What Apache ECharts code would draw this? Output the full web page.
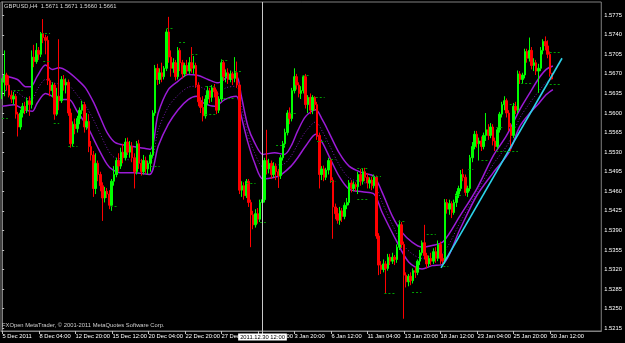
<!DOCTYPE html>
<html><head><meta charset="utf-8">
<script src="https://cdn.jsdelivr.net/npm/echarts@6/dist/echarts.min.js"></script>
<style>html,body{margin:0;padding:0;background:#000;}#c{width:625px;height:343px;}</style>
</head><body><div id="c"></div>
<script>
// ---- data ----
const title = 'GBPUSD,H4  1.5671 1.5671 1.5660 1.5661';
const copyright = 'FXOpen MetaTrader, \u00A9 2001-2011 MetaQuotes Software Corp.';
const timeLabels = ['5 Dec 2011','8 Dec 04:00','12 Dec 20:00','15 Dec 12:00','20 Dec 04:00','22 Dec 20:00','27 Dec 12:00','29 Dec 04:00','3 Jan 20:00','6 Jan 12:00','11 Jan 04:00','13 Jan 20:00','18 Jan 12:00','23 Jan 04:00','25 Jan 20:00','30 Jan 12:00'];
const barsPerLabel = 16;
const slotCount = 263; // bars incl. empty right shift
const priceTicks = [1.5215,1.5250,1.5285,1.5320,1.5355,1.5390,1.5425,1.5460,1.5495,1.5530,1.5565,1.5600,1.5635,1.5670,1.5705,1.5740,1.5775];
const crossPrice = 1.5789, crossBar = 114, crossLabel = '2011.12.30 12:00';
const bidPrice = 1.5661;
// [open, close, low, high]
const bars = [
[1.5640,1.5655,1.5625,1.5662],[1.5655,1.5668,1.5630,1.5712],[1.5668,1.5650,1.5640,1.5672],[1.5650,1.5632,1.5628,1.5667],[1.5632,1.5625,1.5618,1.5640],
[1.5625,1.5630,1.5615,1.5638],[1.5630,1.5598,1.5590,1.5634],[1.5598,1.5575,1.5558,1.5602],[1.5575,1.5600,1.5570,1.5606],[1.5600,1.5612,1.5592,1.5618],
[1.5612,1.5605,1.5598,1.5620],[1.5605,1.5622,1.5600,1.5628],[1.5622,1.5615,1.5595,1.5630],[1.5615,1.5700,1.5608,1.5712],[1.5700,1.5692,1.5682,1.5722],
[1.5692,1.5712,1.5688,1.5725],[1.5712,1.5705,1.5695,1.5718],[1.5705,1.5742,1.5700,1.5745],[1.5742,1.5735,1.5725,1.5768],[1.5735,1.5730,1.5705,1.5740],
[1.5730,1.5658,1.5650,1.5738],[1.5658,1.5640,1.5630,1.5662],[1.5640,1.5650,1.5628,1.5655],[1.5650,1.5598,1.5588,1.5654],[1.5598,1.5630,1.5595,1.5645],
[1.5630,1.5622,1.5605,1.5732],[1.5622,1.5660,1.5618,1.5666],[1.5660,1.5650,1.5640,1.5668],[1.5650,1.5655,1.5635,1.5662],[1.5655,1.5600,1.5595,1.5660],
[1.5600,1.5545,1.5538,1.5608],[1.5545,1.5580,1.5540,1.5585],[1.5580,1.5572,1.5562,1.5590],[1.5572,1.5590,1.5565,1.5595],[1.5590,1.5605,1.5580,1.5610],
[1.5605,1.5615,1.5598,1.5622],[1.5615,1.5575,1.5565,1.5620],[1.5575,1.5585,1.5570,1.5600],[1.5585,1.5540,1.5530,1.5598],[1.5540,1.5525,1.5515,1.5550],
[1.5525,1.5465,1.5450,1.5532],[1.5465,1.5510,1.5455,1.5528],[1.5510,1.5490,1.5478,1.5515],[1.5490,1.5470,1.5460,1.5495],[1.5470,1.5448,1.5407,1.5476],
[1.5448,1.5460,1.5440,1.5468],[1.5460,1.5455,1.5448,1.5466],[1.5455,1.5435,1.5428,1.5462],[1.5435,1.5478,1.5425,1.5482],[1.5478,1.5490,1.5470,1.5505],
[1.5490,1.5515,1.5485,1.5520],[1.5515,1.5505,1.5495,1.5528],[1.5505,1.5530,1.5500,1.5538],[1.5530,1.5520,1.5510,1.5545],[1.5520,1.5548,1.5515,1.5555],
[1.5548,1.5530,1.5525,1.5556],[1.5530,1.5540,1.5520,1.5550],[1.5540,1.5520,1.5512,1.5548],[1.5520,1.5495,1.5465,1.5528],[1.5495,1.5545,1.5490,1.5550],
[1.5545,1.5510,1.5500,1.5552],[1.5510,1.5495,1.5488,1.5518],[1.5495,1.5515,1.5490,1.5525],[1.5515,1.5500,1.5492,1.5522],[1.5500,1.5510,1.5490,1.5515],
[1.5510,1.5525,1.5495,1.5530],[1.5525,1.5600,1.5520,1.5605],[1.5600,1.5680,1.5595,1.5686],[1.5680,1.5660,1.5650,1.5688],[1.5660,1.5672,1.5652,1.5680],
[1.5672,1.5665,1.5655,1.5690],[1.5665,1.5680,1.5660,1.5684],[1.5680,1.5745,1.5675,1.5750],[1.5745,1.5700,1.5690,1.5772],[1.5700,1.5680,1.5665,1.5712],
[1.5680,1.5690,1.5672,1.5698],[1.5690,1.5665,1.5658,1.5695],[1.5665,1.5712,1.5660,1.5718],[1.5712,1.5690,1.5675,1.5716],[1.5690,1.5670,1.5662,1.5695],
[1.5670,1.5685,1.5665,1.5690],[1.5685,1.5675,1.5668,1.5695],[1.5675,1.5690,1.5670,1.5700],[1.5690,1.5680,1.5672,1.5718],[1.5680,1.5685,1.5670,1.5702],
[1.5685,1.5650,1.5645,1.5690],[1.5650,1.5620,1.5612,1.5655],[1.5620,1.5610,1.5600,1.5628],[1.5610,1.5595,1.5585,1.5630],[1.5595,1.5625,1.5590,1.5632],
[1.5625,1.5640,1.5615,1.5648],[1.5640,1.5628,1.5618,1.5645],[1.5628,1.5645,1.5620,1.5650],[1.5645,1.5638,1.5628,1.5652],[1.5638,1.5605,1.5598,1.5642],
[1.5605,1.5625,1.5600,1.5630],[1.5625,1.5690,1.5620,1.5696],[1.5690,1.5665,1.5658,1.5694],[1.5665,1.5672,1.5655,1.5678],[1.5672,1.5660,1.5652,1.5680],
[1.5660,1.5670,1.5655,1.5676],[1.5670,1.5662,1.5650,1.5674],[1.5662,1.5672,1.5655,1.5700],[1.5672,1.5650,1.5645,1.5692],[1.5650,1.5462,1.5455,1.5655],
[1.5462,1.5470,1.5450,1.5478],[1.5470,1.5452,1.5445,1.5476],[1.5452,1.5478,1.5448,1.5482],[1.5478,1.5440,1.5432,1.5482],[1.5440,1.5418,1.5360,1.5445],
[1.5418,1.5400,1.5392,1.5425],[1.5400,1.5420,1.5395,1.5428],[1.5420,1.5410,1.5402,1.5430],[1.5410,1.5440,1.5405,1.5445],[1.5440,1.5445,1.5430,1.5452],
[1.5445,1.5515,1.5440,1.5520],[1.5515,1.5500,1.5490,1.5570],[1.5500,1.5510,1.5492,1.5518],[1.5510,1.5490,1.5482,1.5515],[1.5490,1.5505,1.5485,1.5512],
[1.5505,1.5495,1.5480,1.5510],[1.5495,1.5488,1.5466,1.5500],[1.5488,1.5520,1.5482,1.5525],[1.5520,1.5545,1.5515,1.5550],[1.5545,1.5565,1.5538,1.5572],
[1.5565,1.5600,1.5560,1.5605],[1.5600,1.5590,1.5580,1.5610],[1.5590,1.5640,1.5585,1.5645],[1.5640,1.5665,1.5635,1.5680],[1.5665,1.5650,1.5642,1.5670],
[1.5650,1.5635,1.5628,1.5655],[1.5635,1.5640,1.5625,1.5648],[1.5640,1.5665,1.5635,1.5668],[1.5665,1.5615,1.5608,1.5670],[1.5615,1.5628,1.5600,1.5632],
[1.5628,1.5605,1.5598,1.5635],[1.5605,1.5628,1.5598,1.5632],[1.5628,1.5615,1.5605,1.5630],[1.5615,1.5560,1.5552,1.5620],[1.5560,1.5490,1.5465,1.5565],
[1.5490,1.5500,1.5480,1.5505],[1.5500,1.5485,1.5478,1.5506],[1.5485,1.5498,1.5480,1.5502],[1.5498,1.5515,1.5490,1.5520],[1.5515,1.5480,1.5475,1.5518],
[1.5480,1.5432,1.5375,1.5485],[1.5432,1.5420,1.5410,1.5438],[1.5420,1.5408,1.5402,1.5430],[1.5408,1.5425,1.5400,1.5432],[1.5425,1.5415,1.5405,1.5430],
[1.5415,1.5435,1.5410,1.5440],[1.5435,1.5440,1.5428,1.5448],[1.5440,1.5475,1.5435,1.5480],[1.5475,1.5465,1.5458,1.5480],[1.5465,1.5472,1.5460,1.5478],
[1.5472,1.5468,1.5460,1.5476],[1.5468,1.5490,1.5455,1.5495],[1.5490,1.5478,1.5470,1.5500],[1.5478,1.5495,1.5472,1.5500],[1.5495,1.5485,1.5478,1.5502],
[1.5485,1.5475,1.5465,1.5492],[1.5475,1.5480,1.5465,1.5485],[1.5480,1.5470,1.5462,1.5486],[1.5470,1.5485,1.5465,1.5490],[1.5485,1.5380,1.5375,1.5488],
[1.5380,1.5328,1.5310,1.5385],[1.5328,1.5320,1.5312,1.5335],[1.5320,1.5330,1.5315,1.5338],[1.5330,1.5322,1.5278,1.5335],[1.5322,1.5342,1.5318,1.5348],
[1.5342,1.5335,1.5328,1.5348],[1.5335,1.5342,1.5330,1.5350],[1.5342,1.5338,1.5328,1.5346],[1.5338,1.5360,1.5332,1.5365],[1.5360,1.5400,1.5355,1.5408],
[1.5400,1.5365,1.5358,1.5405],[1.5365,1.5310,1.5232,1.5370],[1.5310,1.5298,1.5288,1.5315],[1.5298,1.5308,1.5290,1.5312],[1.5308,1.5300,1.5292,1.5315],
[1.5300,1.5318,1.5295,1.5322],[1.5318,1.5315,1.5305,1.5325],[1.5315,1.5335,1.5310,1.5338],[1.5335,1.5350,1.5328,1.5355],[1.5350,1.5368,1.5345,1.5372],
[1.5368,1.5345,1.5338,1.5400],[1.5345,1.5330,1.5322,1.5350],[1.5330,1.5340,1.5325,1.5345],[1.5340,1.5335,1.5328,1.5350],[1.5335,1.5352,1.5330,1.5358],
[1.5352,1.5340,1.5332,1.5360],[1.5340,1.5365,1.5335,1.5372],[1.5365,1.5340,1.5330,1.5370],[1.5340,1.5335,1.5326,1.5348],[1.5335,1.5440,1.5330,1.5446],
[1.5440,1.5428,1.5420,1.5446],[1.5428,1.5438,1.5418,1.5445],[1.5438,1.5422,1.5412,1.5442],[1.5422,1.5440,1.5418,1.5445],[1.5440,1.5455,1.5432,1.5460],
[1.5455,1.5465,1.5448,1.5470],[1.5465,1.5490,1.5460,1.5498],[1.5490,1.5485,1.5478,1.5500],[1.5485,1.5458,1.5452,1.5490],[1.5458,1.5465,1.5450,1.5470],
[1.5465,1.5520,1.5460,1.5525],[1.5520,1.5540,1.5512,1.5548],[1.5540,1.5562,1.5535,1.5568],[1.5562,1.5545,1.5538,1.5568],[1.5545,1.5550,1.5515,1.5556],
[1.5550,1.5540,1.5532,1.5558],[1.5540,1.5560,1.5535,1.5565],[1.5560,1.5570,1.5550,1.5600],[1.5570,1.5560,1.5552,1.5580],[1.5560,1.5575,1.5555,1.5582],
[1.5575,1.5550,1.5542,1.5580],[1.5550,1.5540,1.5532,1.5556],[1.5540,1.5570,1.5535,1.5575],[1.5570,1.5598,1.5565,1.5602],[1.5598,1.5615,1.5592,1.5620],
[1.5615,1.5622,1.5605,1.5630],[1.5622,1.5600,1.5592,1.5626],[1.5600,1.5575,1.5568,1.5605],[1.5575,1.5560,1.5532,1.5582],[1.5560,1.5612,1.5555,1.5618],
[1.5612,1.5605,1.5598,1.5620],[1.5605,1.5670,1.5600,1.5676],[1.5670,1.5660,1.5652,1.5675],[1.5660,1.5668,1.5652,1.5672],[1.5668,1.5710,1.5662,1.5715],
[1.5710,1.5698,1.5690,1.5715],[1.5698,1.5712,1.5692,1.5735],[1.5712,1.5685,1.5678,1.5718],[1.5685,1.5690,1.5675,1.5698],[1.5690,1.5675,1.5668,1.5695],
[1.5675,1.5680,1.5636,1.5688],[1.5680,1.5712,1.5675,1.5718],[1.5712,1.5728,1.5705,1.5732],[1.5728,1.5720,1.5712,1.5737],[1.5720,1.5705,1.5698,1.5730],
[1.5705,1.5671,1.5665,1.5710],[1.5671,1.5661,1.5660,1.5671]
];
// indicator bands [barIndex, price]
const upperBand = [[0,1.5667],[6.7,1.5660],[10.3,1.5647],[12.5,1.5647],[15.4,1.5666],[19,1.5686],[22,1.5678],[24.9,1.5681],[28.5,1.5675],[32.9,1.5660],[36.5,1.5645],[40.2,1.5618],[43.1,1.5591],[46,1.5565],[49.6,1.5547],[54.7,1.5542],[60.6,1.5538],[64.9,1.5535],[68.4,1.5600],[72.8,1.5642],[77.1,1.5657],[81.5,1.5669],[85.9,1.5667],[90.2,1.5660],[94.6,1.5654],[99,1.5665],[102.6,1.5666],[104.8,1.5630],[107.7,1.5576],[110.6,1.5547],[114.3,1.5526],[119.4,1.5529],[123.7,1.5526],[126.6,1.5541],[129.5,1.5568],[133,1.5594],[137.4,1.5606],[140.3,1.5588],[143.2,1.5565],[147.6,1.5529],[152,1.5505],[157.8,1.5493],[162.9,1.5487],[166.5,1.5458],[170.9,1.5416],[175.3,1.5386],[179.6,1.5369],[184,1.5360],[188.4,1.5363],[193.3,1.5370],[200.6,1.5416],[207.9,1.5464],[215.1,1.5523],[220.9,1.5559],[226.8,1.5606],[231.2,1.5636],[235.3,1.5663],[238.4,1.5678],[241.3,1.5684]];
const lowerBand = [[0,1.5612],[5.2,1.5615],[9.6,1.5606],[13.2,1.5603],[15.4,1.5618],[19,1.5635],[22,1.5630],[25.6,1.5624],[29.3,1.5624],[32.9,1.5603],[37.3,1.5576],[41.6,1.5541],[46,1.5508],[48.2,1.5499],[51.8,1.5493],[57.6,1.5493],[64.5,1.5490],[68.4,1.5541],[72.8,1.5580],[77.1,1.5606],[81.5,1.5624],[85.1,1.5630],[88.1,1.5618],[93.2,1.5612],[97.5,1.5624],[102.6,1.5630],[104.8,1.5594],[107.7,1.5547],[110.6,1.5511],[114.3,1.5482],[119.4,1.5485],[122.3,1.5490],[126.6,1.5505],[129.5,1.5520],[133,1.5541],[137.4,1.5562],[140.3,1.5547],[143.2,1.5523],[147.6,1.5487],[152,1.5464],[157.8,1.5459],[162.9,1.5455],[166.5,1.5422],[172.3,1.5375],[178.2,1.5333],[184,1.5321],[188.4,1.5327],[193.3,1.5330],[200.6,1.5392],[207.9,1.5452],[215.1,1.5493],[222,1.5529],[226.8,1.5576],[231.2,1.5600],[235.3,1.5618],[238.4,1.5633],[241.3,1.5642]];
const midBand = [[0,1.5640],[6,1.5638],[10,1.5627],[13,1.5625],[15.4,1.5642],[19,1.5660],[22,1.5654],[25.5,1.5652],[29,1.5650],[32.9,1.5632],[37,1.5610],[41,1.5580],[46,1.5537],[49,1.5521],[54,1.5517],[60,1.5515],[64.7,1.5512],[68.4,1.5570],[72.8,1.5611],[77.1,1.5632],[81.5,1.5646],[85.5,1.5648],[90,1.5640],[94,1.5633],[98,1.5645],[102.6,1.5648],[104.8,1.5612],[107.7,1.5561],[110.6,1.5529],[114.3,1.5504],[119.4,1.5507],[123,1.5508],[126.6,1.5523],[129.5,1.5544],[133,1.5567],[137.4,1.5584],[140.3,1.5567],[143.2,1.5544],[147.6,1.5508],[152,1.5484],[157.8,1.5476],[162.9,1.5471],[166.5,1.5440],[171.5,1.5396],[176.5,1.5360],[184,1.5340],[188.4,1.5345],[193.3,1.5350],[200.6,1.5404],[207.9,1.5458],[215.1,1.5508],[221.5,1.5544],[226.8,1.5591],[231.2,1.5618],[235.3,1.5640],[238.4,1.5655],[241.3,1.5663]];
const trendLine = [[192.3,1.5323],[245.3,1.5698]];
// dashed day markers [fromBar, toBar, price]
const dayMarks = [[17,21,1.5742],[18,21,1.5692],[5,9,1.5640],[0,2.5,1.5590],[22.6,25,1.5582],[29,33,1.5541],[47.5,51,1.5434],[72,75,1.5751],[77.5,81,1.5726],[83,85.5,1.5706],[96,99,1.5695],[102,105,1.5674],[89,93,1.5647],[89,94,1.5597],[97,102,1.5626],[65,69,1.5505],[107,111,1.5475],[113,115.5,1.5404],[120,124,1.5542],[126,129.5,1.5600],[131.6,135,1.5667],[137.4,141.3,1.5628],[138,141.8,1.5550],[144,146,1.5517],[144,146,1.5478],[155.6,160,1.5501],[155.6,160,1.5446],[162,166,1.5487],[173.6,176.7,1.5407],[186,190,1.5384],[167.5,172,1.5277],[179.6,183.7,1.5280],[193.3,195.5,1.5325],[198.4,202,1.5453],[204.2,206.4,1.5499],[210,213,1.5515],[216.5,220,1.5574],[216.5,226,1.5531],[222.4,224.6,1.5616],[227.4,232.6,1.5654],[239.9,244.3,1.5708],[239.9,244.3,1.5652]];

// ---- chart ----
const FONT = '"Liberation Sans",Arial,sans-serif';
const FS = 5.8;
const categories = Array.from({length: slotCount}, (_, i) => String(i));

const chart = echarts.init(document.getElementById('c'), null, {renderer: 'canvas'});
const GRID = {left: 1, right: 21.3, top: 2, bottom: 12};
const gridBottomY = 343 - GRID.bottom;
const option = {
  backgroundColor: '#000000',
  animation: false,
  grid: {left: GRID.left, right: GRID.right, top: GRID.top, bottom: GRID.bottom, show: true,
         borderColor: '#808080', borderWidth: 1, backgroundColor: 'transparent'},
  xAxis: [{
    type: 'category', data: categories, boundaryGap: true,
    axisLine: {show: true, lineStyle: {color: '#808080', width: 1}},
    axisTick: {show: false}, axisLabel: {show: false}, splitLine: {show: false}
  }, {
    type: 'value', min: -0.5, max: slotCount - 0.5, show: false
  }],
  yAxis: {
    type: 'value', position: 'right', scale: true, min: 1.521005, max: 1.57986,
    splitLine: {show: false},
    axisLine: {show: true, lineStyle: {color: '#808080'}},
    axisTick: {show: true, length: 2, customValues: priceTicks, lineStyle: {color: '#c0c0c0'}},
    axisLabel: {show: true, customValues: priceTicks, formatter: (v) => v.toFixed(4),
                color: '#ffffff', fontSize: FS, fontFamily: FONT, margin: 3}
  },
  series: [
    {
      type: 'line', xAxisIndex: 1, data: midBand, showSymbol: false, smooth: 0.3, silent: true,
      lineStyle: {color: '#7b1cb3', width: 1, type: [1, 2]}, z: 1
    },
    {
      type: 'line', xAxisIndex: 1, data: upperBand, showSymbol: false, smooth: 0.3, silent: true,
      lineStyle: {color: '#9b1bd6', width: 1.5}, z: 1,
      markLine: {
        silent: true, symbol: ['none', 'none'], label: {show: false},
        lineStyle: {color: '#00a000', width: 1, type: [2, 2]},
        data: dayMarks.map(d => [{coord: [d[0], d[2]]}, {coord: [d[1], d[2]]}])
      }
    },
    {
      type: 'line', xAxisIndex: 1, data: lowerBand, showSymbol: false, smooth: 0.3, silent: true,
      lineStyle: {color: '#9b1bd6', width: 1.5}, z: 1
    },
    {
      type: 'candlestick', xAxisIndex: 0, data: bars, barWidth: 2,
      itemStyle: {color: '#00ff00', color0: '#ff0000', borderColor: '#00ff00', borderColor0: '#ff0000', borderWidth: 1},
      z: 3,
      markLine: {
        silent: true, symbol: ['none', 'none'],
        data: [
          {yAxis: crossPrice, lineStyle: {color: '#a8a8a8', width: 1, type: [1, 2]},
           label: {show: true, position: 'end', distance: 2, formatter: crossPrice.toFixed(4),
                   backgroundColor: '#ffffff', color: '#000000', padding: [1, 2, 0, 2],
                   fontSize: FS, fontFamily: FONT}},
          {yAxis: bidPrice, lineStyle: {opacity: 0},
           label: {show: true, position: 'end', distance: 2, formatter: bidPrice.toFixed(4),
                   backgroundColor: '#ffffff', color: '#000000', padding: [1, 2, 0, 2],
                   fontSize: FS, fontFamily: FONT}}
        ]
      }
    },
    {
      type: 'line', xAxisIndex: 1, data: trendLine, showSymbol: false, silent: true,
      lineStyle: {color: '#2cd3ea', width: 1.6}, z: 4
    }
  ]
};
chart.setOption(option);

// time axis labels & ticks placed through the axis scale
const px = (j) => chart.convertToPixel({xAxisIndex: 1}, j);
const graphics = [];
timeLabels.forEach((txt, k) => {
  const x = Math.round(px(k * barsPerLabel)) + 0.5;
  graphics.push({type: 'line', silent: true, z: 40,
    shape: {x1: x, y1: gridBottomY, x2: x, y2: gridBottomY + 3},
    style: {stroke: '#c0c0c0', lineWidth: 1}});
  graphics.push({type: 'text', silent: true, z: 40, x: x, y: gridBottomY + 2.5,
    style: {text: txt, fill: '#ffffff', font: FS + 'px ' + FONT, align: 'left', verticalAlign: 'top'}});
});
const vx = Math.round(px(crossBar)) + 0.5;
graphics.push(
  {type: 'text', left: 4, top: 3, z: 50, silent: true,
   style: {text: title, fill: '#d8d8d8', font: FS + 'px ' + FONT}},
  {type: 'text', left: 2, top: gridBottomY - 9, z: 50, silent: true,
   style: {text: copyright, fill: '#cfcfcf', font: FS + 'px ' + FONT}},
  {type: 'line', z: 60, silent: true,
   shape: {x1: vx, y1: GRID.top, x2: vx, y2: gridBottomY + 3},
   style: {stroke: '#c8c8c8', lineWidth: 1}},
  {type: 'text', x: vx, y: gridBottomY + 2.5, z: 61, silent: true,
   style: {text: crossLabel, fill: '#000000', backgroundColor: '#ffffff', padding: [1, 2, 0, 2],
           font: FS + 'px ' + FONT, align: 'center', verticalAlign: 'top'}}
);
chart.setOption({graphic: graphics});
</script>
</body></html>
